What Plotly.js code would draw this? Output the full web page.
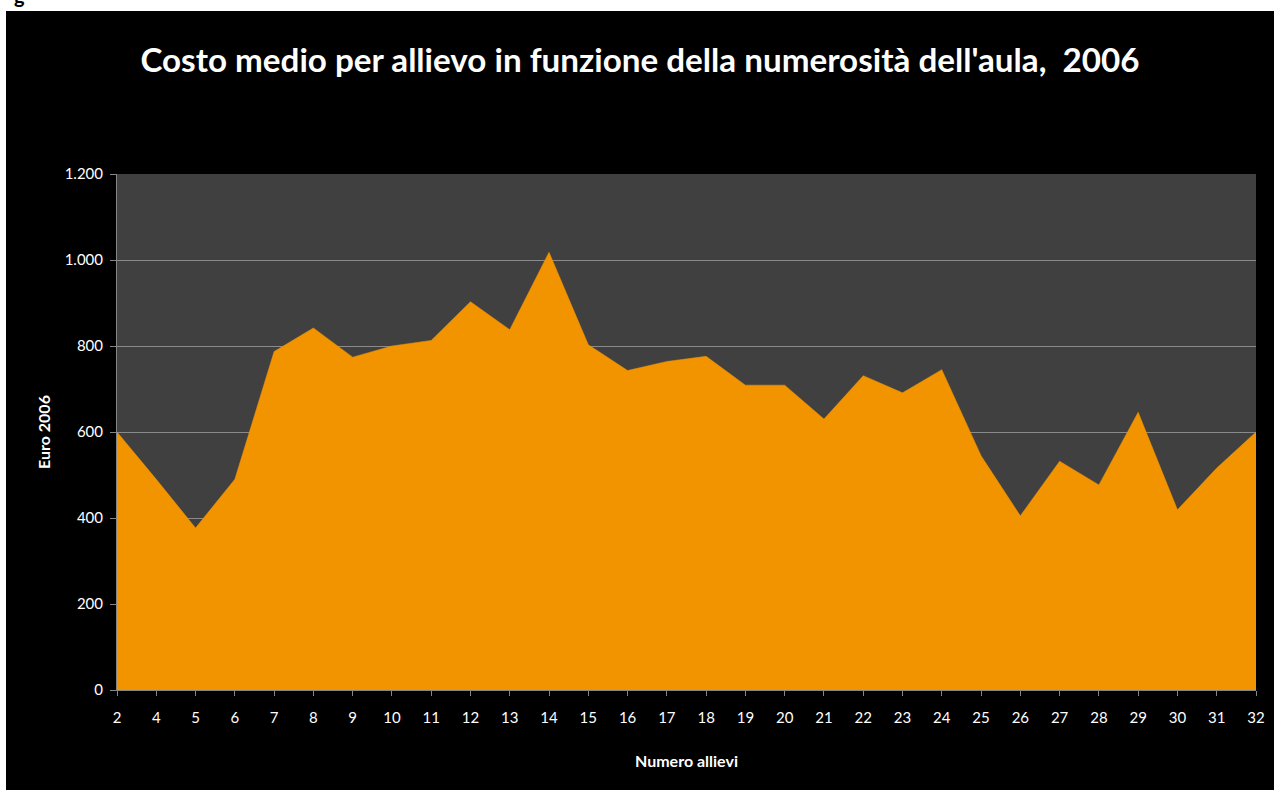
<!DOCTYPE html>
<html>
<head>
<meta charset="utf-8">
<script src="https://cdn.plot.ly/plotly-3.0.1.min.js"></script>
<style>
  html, body { margin: 0; padding: 0; background: #ffffff; width: 1274px; height: 790px; overflow: hidden; }
  #chart { position: absolute; left: 6px; top: 11px; width: 1268px; height: 779px; }
  #frag { position: absolute; left: 14px; top: -17px; font-family: Lato, sans-serif; font-weight: bold; font-size: 20px; color: #000; }
</style>
</head>
<body>
<div id="frag">g</div>
<div id="chart"></div>
<script>
const categories = ["2","4","5","6","7","8","9","10","11","12","13","14","15","16","17","18","19","20","21","22","23","24","25","26","27","28","29","30","31","32"];
const costValues = [600, 490, 377, 490, 787, 842, 774, 800, 813, 903, 838, 1018, 803, 743, 764, 776, 709, 709, 630, 731, 691, 745, 545, 405, 532, 477, 646, 419, 516, 600];
const chartTitle = "Costo medio per allievo in funzione della numerosità dell'aula,  2006";
const xTitle = "Numero allievi";
const yTitle = "Euro 2006";

const trace = {
  x: categories,
  y: costValues,
  type: 'scatter',
  mode: 'lines',
  fill: 'tozeroy',
  fillcolor: '#f29400',
  line: { color: '#f29400', width: 0.5 },
  hoverinfo: 'x+y'
};

const layout = {
  width: 1268,
  height: 779,
  paper_bgcolor: '#000000',
  plot_bgcolor: '#404040',
  separators: ',.',
  margin: { l: 111, r: 18, t: 163, b: 100 },
  font: { family: 'Lato, sans-serif', color: '#ffffff', size: 15 },
  title: {
    text: chartTitle,
    font: { family: 'Lato, sans-serif', size: 33.2, color: '#ffffff', weight: 'bold' },
    x: 0.5, xref: 'container', xanchor: 'center',
    y: 0.937, yref: 'container', yanchor: 'middle'
  },
  showlegend: false,
  xaxis: {
    type: 'category',
    range: [0, categories.length - 1],
    showgrid: false,
    zeroline: false,
    showline: true,
    linecolor: '#868686',
    linewidth: 1,
    ticks: 'outside',
    ticklen: 5,
    tickcolor: '#868686',
    ticklabelstandoff: 9,
    tickfont: { family: 'Lato, sans-serif', size: 15, color: '#ffffff' },
    title: { text: xTitle, font: { family: 'Lato, sans-serif', size: 16, color: '#ffffff', weight: 'bold' }, standoff: 30 },
    fixedrange: true
  },
  yaxis: {
    range: [0, 1200],
    dtick: 200,
    tick0: 0,
    separatethousands: true,
    showgrid: true,
    gridcolor: '#8a8a8a',
    gridwidth: 1,
    zeroline: false,
    showline: true,
    linecolor: '#868686',
    linewidth: 1,
    ticks: 'outside',
    ticklen: 6,
    tickcolor: '#868686',
    ticklabelstandoff: 4,
    tickfont: { family: 'Lato, sans-serif', size: 15, color: '#ffffff' },
    title: { text: yTitle, font: { family: 'Lato, sans-serif', size: 16, color: '#ffffff', weight: 'bold' }, standoff: 10 },
    fixedrange: true
  }
};

Plotly.newPlot('chart', [trace], layout, { displayModeBar: false });
</script>
</body>
</html>
